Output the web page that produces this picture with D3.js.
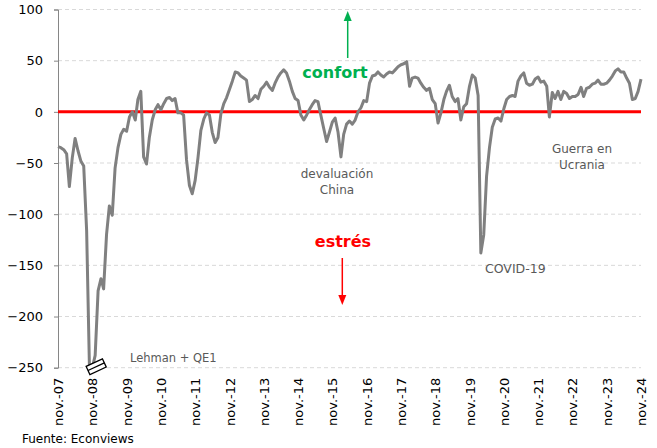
<!DOCTYPE html>
<html lang="es">
<head>
<meta charset="UTF-8">
<title>Indicador confort / estrés</title>
<script src="https://d3js.org/d3.v7.min.js"></script>
<style>
  body { margin: 0; background: #fff; }
  text { font-family: "DejaVu Sans", Verdana, sans-serif; }
</style>
</head>
<body>
<div id="chart"></div>
<script>
// monthly series, nov-07 .. nov-24
var startMonth = new Date(2007, 10, 1);
var values = [
  -34, -35, -37, -41, -73, -45, -26, -38, -48, -53, -116, -250,
  -250, -238, -175, -163, -173, -120, -92, -101, -55, -35, -22, -17,
  -19, -5, 0, -8, 12, 20, -44, -51, -25, -8, 2, 7,
  2, 8, 13, 14, 11, 13, -1, -1, -3, -47, -72, -80,
  -67, -45, -18, -7, -1, -3, -20, -30, -25, -2, 8, 14,
  22, 30, 39, 38, 35, 33, 31, 10, 12, 16, 13, 22,
  25, 29, 24, 21, 28, 34, 38, 41, 38, 30, 20, 13,
  11, -3, -8, -3, 2, 7, 11, 10, -3, -16, -29, -20,
  -10, -6, -20, -44, -22, -12, -9, -12, -8, 0, 4, 11,
  10, 28, 35, 36, 39, 36, 34, 37, 39, 38, 41, 44,
  46, 47, 49, 25, 33, 34, 33, 28, 24, 21, 23, 12,
  8, -11, -1, 12, 20, 26, 15, 10, 13, -8, 5, 8,
  25, 36, 33, 16, -138, -120, -63, -35, -15, -7, -6, -9,
  3, 12, 15, 16, 15, 30, 35, 38, 28, 26, 27, 32,
  34, 29, 30, 25, -5, 19, 13, 20, 12, 20, 18, 13,
  15, 15, 17, 24, 15, 23, 24, 27, 28, 31, 27, 27,
  28, 31, 35, 40, 42, 39, 39, 33, 28, 12, 13, 20, 32
];
var yTicks = [100, 50, 0, -50, -100, -150, -200, -250];
var xTickLabels = ["nov.-07", "nov.-08", "nov.-09", "nov.-10", "nov.-11", "nov.-12",
  "nov.-13", "nov.-14", "nov.-15", "nov.-16", "nov.-17", "nov.-18", "nov.-19",
  "nov.-20", "nov.-21", "nov.-22", "nov.-23", "nov.-24"];

var width = 657, height = 448;
var plotLeft = 58, plotRight = 641, plotTop = 9.5, plotBottom = 367.7;

var data = values.map(function (v, i) {
  return { date: d3.timeMonth.offset(startMonth, i), value: v };
});
var xTickDates = xTickLabels.map(function (d, i) { return d3.timeMonth.offset(startMonth, i * 12); });

var x = d3.scaleTime()
  .domain([startMonth, d3.timeMonth.offset(startMonth, 204)])
  .range([plotLeft, plotRight]);
var y = d3.scaleLinear().domain([-250, 100]).range([plotBottom, plotTop]);

var svg = d3.select("#chart").append("svg")
  .attr("width", width)
  .attr("height", height);

// gridlines
svg.append("g")
  .selectAll("line")
  .data(yTicks)
  .enter().append("line")
  .attr("x1", plotLeft).attr("x2", plotRight)
  .attr("y1", function (d) { return y(d); })
  .attr("y2", function (d) { return y(d); })
  .attr("stroke", "#d9d9d9")
  .attr("stroke-dasharray", "4,3");

// y axis
var yAxis = svg.append("g")
  .attr("transform", "translate(" + plotLeft + ",0)")
  .call(d3.axisLeft(y).tickValues(yTicks).tickSize(4).tickPadding(11));
yAxis.select(".domain").attr("stroke", "#868686");
yAxis.selectAll(".tick line").attr("stroke", "#868686");
yAxis.selectAll("text").attr("font-size", 13).attr("fill", "#000")
  .style("font-family", "'DejaVu Sans', Verdana, sans-serif");

// x labels
var xAxis = svg.append("g")
  .attr("transform", "translate(0," + plotBottom + ")")
  .call(d3.axisBottom(x).tickValues(xTickDates).tickSize(0)
    .tickFormat(function (d, i) { return xTickLabels[i]; }));
xAxis.select(".domain").remove();
xAxis.selectAll("text")
  .attr("font-size", 13).attr("fill", "#000")
  .style("font-family", "'DejaVu Sans', Verdana, sans-serif")
  .attr("text-anchor", "end")
  .attr("transform", "rotate(-90)")
  .attr("x", -10).attr("y", 0).attr("dy", "0.35em");

// zero line
svg.append("line")
  .attr("x1", plotLeft).attr("x2", plotRight)
  .attr("y1", y(0)).attr("y2", y(0))
  .attr("stroke", "#ff0000").attr("stroke-width", 3);

// series
var line = d3.line()
  .x(function (d) { return x(d.date); })
  .y(function (d) { return y(d.value); });
svg.append("path")
  .datum(data)
  .attr("d", line)
  .attr("fill", "none")
  .attr("stroke", "#808080")
  .attr("stroke-width", 3)
  .attr("stroke-linejoin", "round");

// axis break marker at the Lehman low
var brk = svg.append("g")
  .attr("transform", "translate(" + (x(d3.timeMonth.offset(startMonth, 13)) + 1) + "," + (plotBottom - 1) + ") rotate(-25)");
brk.append("rect").attr("x", -9).attr("y", -4.5).attr("width", 18).attr("height", 9)
  .attr("fill", "#fff").attr("stroke", "#000").attr("stroke-width", 1.3);
brk.append("line").attr("x1", -9).attr("x2", 9).attr("y1", 0).attr("y2", 0)
  .attr("stroke", "#000").attr("stroke-width", 1.3);

// arrows
function arrow(xp, y1, y2, color) {
  var dir = y2 < y1 ? 1 : -1;
  svg.append("line").attr("x1", xp).attr("x2", xp).attr("y1", y1).attr("y2", y2 + dir * 9)
    .attr("stroke", color).attr("stroke-width", 1.5);
  svg.append("path")
    .attr("d", "M" + (xp - 4) + "," + (y2 + dir * 10) + "L" + xp + "," + y2 + "L" + (xp + 4) + "," + (y2 + dir * 10) + "Z")
    .attr("fill", color);
}
arrow(347.7, 58, 11, "#00b050");
arrow(342.3, 258, 305, "#ff0000");

function label(txt, xp, yp, opts) {
  svg.append("text")
    .attr("x", xp).attr("y", yp)
    .attr("text-anchor", opts.anchor || "middle")
    .attr("font-size", opts.size || 12)
    .attr("font-weight", opts.weight || "normal")
    .attr("fill", opts.color || "#595959")
    .text(txt);
}
label("confort", 335, 78, { size: 16, weight: "bold", color: "#00b050" });
label("estrés", 343, 247, { size: 16, weight: "bold", color: "#ff0000" });
label("devaluación", 337, 178, {});
label("China", 337, 194, {});
label("Guerra en", 582, 153, {});
label("Ucrania", 582, 169, {});
label("COVID-19", 485, 273, { anchor: "start", size: 12.5 });
label("Lehman + QE1", 130, 362, { anchor: "start", size: 11.5 });
label("Fuente: Econviews", 22, 443, { anchor: "start", size: 12, color: "#000" });
</script>
</body>
</html>
